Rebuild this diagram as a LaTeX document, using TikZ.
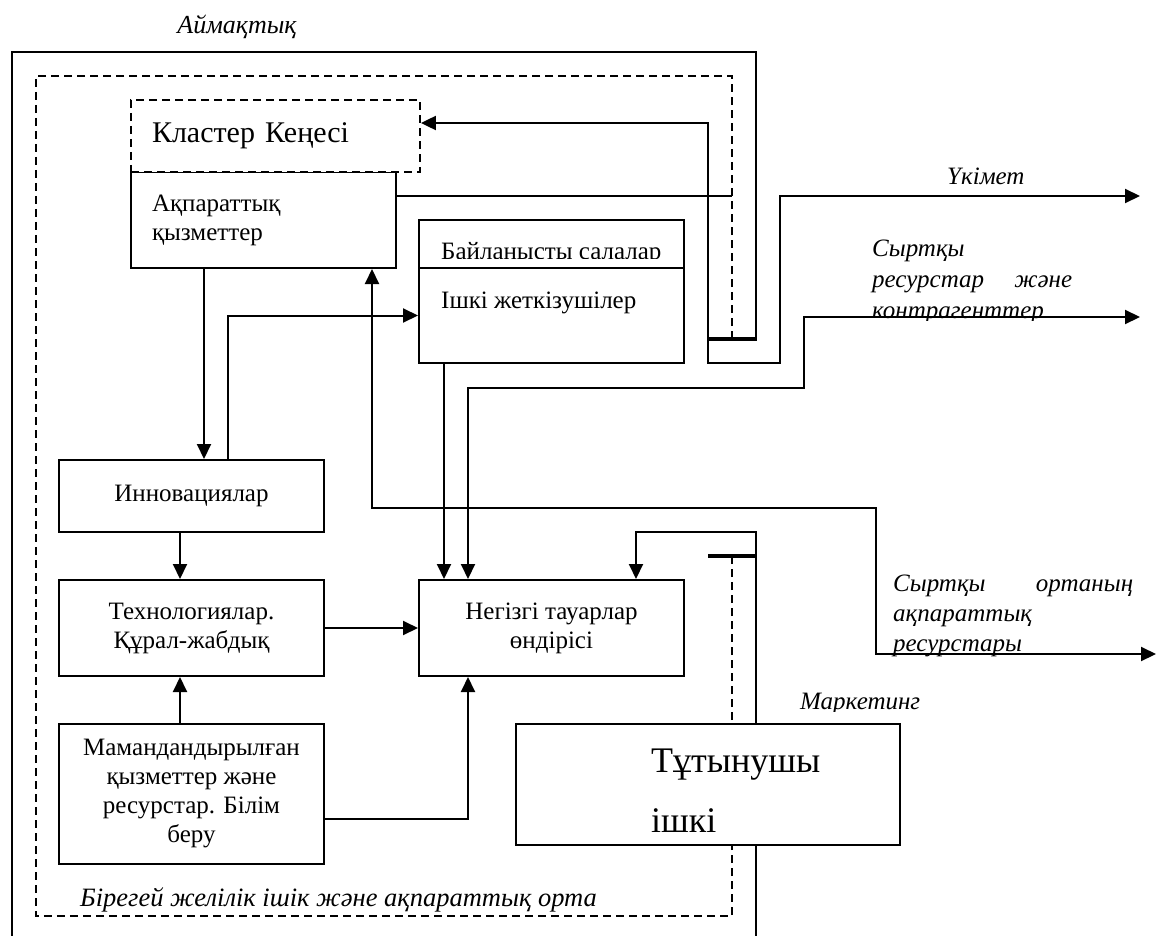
\documentclass[tikz,border=0pt]{standalone}
\usepackage{fontspec}
\setmainfont{Liberation Serif}
\usetikzlibrary{arrows.meta}

\begin{document}
\begin{tikzpicture}[
    x=1pt, y=-1pt,
    box/.style={rectangle, draw, fill=white, line width=2pt, inner sep=0pt, minimum width=265pt, align=center, font=\fontsize{25}{29}\selectfont},
    note/.style={inner sep=0pt, align=left, font=\fontsize{25}{30}\selectfont\itshape},
    arrow/.style={->, >={Triangle[length=15pt, width=14pt]}, line width=2pt},
    dashline/.style={line width=1.8pt, dash pattern=on 8pt off 5pt},
    bar/.style={line width=4.5pt}
  ]
  \useasboundingbox (0,0) rectangle (1158,936);

  % Frames
  \draw[line width=2pt] (12,936) -- (12,52) -- (756,52) -- (756,339);
  \draw[dashline] (732,339) -- (732,76) -- (36,76) -- (36,916) -- (732,916) -- (732,556);
  \draw[bar] (708,339) -- (757,339);
  \draw[bar] (708,556) -- (757,556);

  % Blocks
  \node[box, minimum height=96pt, text width=223pt, inner xsep=21pt, align=left] (infoserv) at (263.5,220) {Ақпараттық\\қызметтер};
  \node[box, dashline, minimum height=72pt, text width=247pt, inner xsep=21pt, align=left, font=\fontsize{30}{34}\selectfont] (council) at (275.5,136) {Кластер Кеңесі};
  \node[box, minimum height=48pt] (linked) at (551.5,244) {};
  \node[box, minimum height=95pt] (supp) at (551.5,315.5) {};
  \node[anchor=base west, inner sep=0pt, font=\fontsize{25}{29}\selectfont] (supptext) at (441,308) {Ішкі жеткізушілер};
  \begin{scope}
    \clip (420,220) rectangle (683,258);
    \node[anchor=base west, inner sep=0pt, font=\fontsize{25}{29}\selectfont] (linkedtext) at (441,259) {Байланысты салалар};
  \end{scope}
  \node[box, minimum height=72pt] (innov) at (191.5,496) {Инновациялар};
  \node[box, minimum height=96pt] (tech) at (191.5,628) {Технологиялар.\\Құрал-жабдық};
  \node[box, minimum height=140pt] (spec) at (191.5,794) {Мамандандырылған\\қызметтер және\\ресурстар. Білім\\беру};
  \node[box, minimum height=96pt] (core) at (551.5,628) {Негізгі тауарлар\\өндірісі};

  % Labels
  \node[note, font=\fontsize{26}{30}\selectfont\itshape] (region) at (237,27) {Аймақтық};
  \node[note, anchor=west] (govtlabel) at (947,176) {Үкімет};
  \node[note, anchor=west, font=\fontsize{26.5}{30}\selectfont\itshape] (envlabel) at (80,900) {Бірегей желілік ішік және ақпараттық орта};
  \begin{scope}
    \clip (860,230) rectangle (1158,320);
    \node[note, anchor=north west, text width=200pt, font=\fontsize{25}{31}\selectfont\itshape] (reslabel) at (872,240) {Сыртқы\\ресурстар\hfill және\\контрагенттер};
  \end{scope}
  \begin{scope}
    \clip (880,560) rectangle (1158,657);
    \node[note, anchor=north west, text width=240pt] (infolabel) at (893,575) {Сыртқы\hfill ортаның\\ақпараттық\\ресурстары};
  \end{scope}
  \begin{scope}
    \clip (790,680) rectangle (960,711);
    \node[note, anchor=base west] (mktlabel) at (800,709) {Маркетинг};
  \end{scope}

  % Arrows
  \coordinate (govt) at (1140,196);
  \coordinate (extres) at (1140,317);
  \coordinate (extinfo) at (1156,654);
  \coordinate (infoend) at (732,196);
  \coordinate (mkt) at (756,936);

  \draw[arrow, <->] (govt) -- (780,196) |- (708,363) |- ([yshift=13pt]council.east);
  \draw[line width=1.4pt] ([yshift=24pt]infoserv.east) -- (infoend);
  \draw[arrow] ([xshift=-59.5pt]infoserv.south) -- ([xshift=12.5pt]innov.north);
  \draw[arrow] ([xshift=36.5pt]innov.north) |- (supp.west);
  \draw[arrow] ([xshift=-11.5pt]innov.south) -- ([xshift=-11.5pt]tech.north);
  \draw[arrow] ([xshift=-11.5pt]spec.north) -- ([xshift=-11.5pt]tech.south);
  \draw[arrow] (tech.east) -- (core.west);
  \draw[arrow] ([yshift=-25pt]spec.east) -| ([xshift=-83.5pt]core.south);
  \draw[arrow] ([xshift=-107.5pt]supp.south) -- ([xshift=-107.5pt]core.north);
  \draw[arrow, <->] (extres) -- (804,317) |- (468,388) -- ([xshift=-83.5pt]core.north);
  \draw[arrow, <->] (extinfo) -- (876,654) |- (372,508) -- ([xshift=108.5pt]infoserv.south);
  \draw[arrow] (mkt) -- (756,532) -| ([xshift=84.5pt]core.north);

  % Consumer
  \node[box, minimum width=384pt, minimum height=121pt] (consumer) at (708,784.5) {};
  \node[anchor=north west, inner sep=0pt, align=left, font=\fontsize{36}{60}\selectfont] (consumertext) at (651,749) {Тұтынушы\\ішкі};
\end{tikzpicture}
\end{document}
